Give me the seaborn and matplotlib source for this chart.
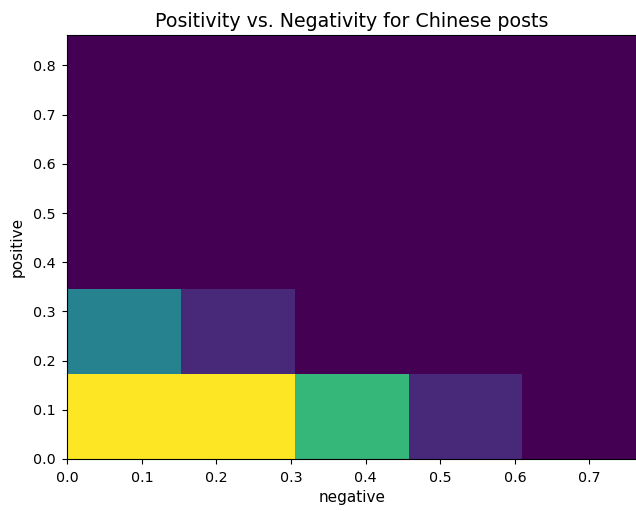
import numpy as np
import pandas as pd
import matplotlib
matplotlib.use("Agg")
import matplotlib.pyplot as plt
import seaborn as sns

# Bin centres of the 5x5 grid and the number of posts falling in each
negative = [0.0763, 0.2288, 0.3813, 0.5338, 0.0763, 0.2288]
positive = [0.0862, 0.0862, 0.0862, 0.0862, 0.2586, 0.2586]
counts = [9, 9, 6, 1, 4, 1]

neg_range = (0.0, 0.7626)
pos_range = (0.0, 0.862)
n_bins = 5

df = pd.DataFrame({"negative": negative, "positive": positive, "count": counts})

fig = plt.figure(figsize=(6.36, 5.11), dpi=100)
ax = fig.add_axes([0.1058, 0.1018, 0.8945, 0.8297])

sns.histplot(
    data=df, x="negative", y="positive", weights="count",
    bins=n_bins, binrange=(neg_range, pos_range),
    cmap="viridis", thresh=None, ax=ax,
)

ax.set_xlim(*neg_range)
ax.set_ylim(*pos_range)
ax.set_xticks(np.arange(0, 0.75, 0.1))
ax.set_yticks(np.arange(0, 0.85, 0.1))
ax.tick_params(labelsize=10.3, pad=4.8)
ax.set_xlabel("negative", fontsize=11)
ax.set_ylabel("positive", fontsize=11, labelpad=6)
ax.set_title("Positivity vs. Negativity for Chinese posts", fontsize=13.7)

fig.savefig("out.png", dpi=100)
